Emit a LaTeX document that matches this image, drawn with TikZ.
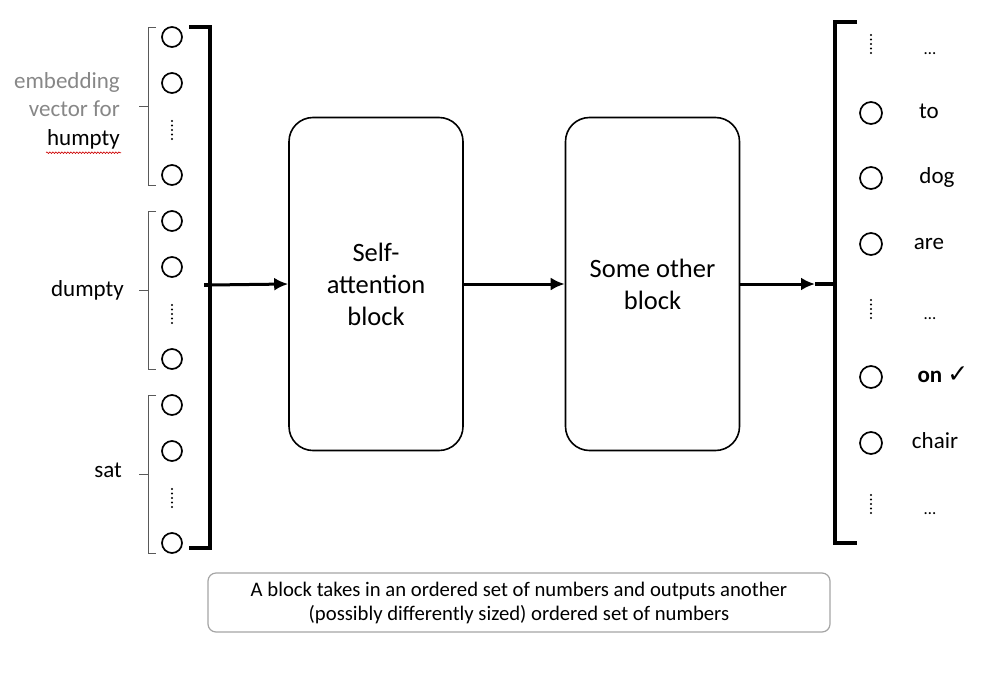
\documentclass[tikz,border=0pt]{standalone}
\usepackage{fontspec}
\setmainfont{Carlito}
\newfontfamily\symfont{DejaVu Sans}
\usetikzlibrary{arrows.meta,decorations.pathmorphing}
\definecolor{labelgray}{RGB}{135,135,135}
\definecolor{boxgray}{RGB}{165,165,165}

\begin{document}
\begin{tikzpicture}[x=1pt,y=-1pt,
	unit/.style={circle,draw,line width=1.7pt,minimum size=20pt,inner sep=0pt},
	block/.style={draw,line width=1.6pt,rounded corners=24pt,minimum width=174pt,minimum height=333pt,align=center,font=\fontsize{26.5}{32}\selectfont},
	word/.style={font=\fontsize{23}{28}\selectfont,inner sep=1pt,text height=16pt,text depth=5pt},
	vdots/.style={line width=2.4pt,line cap=round,dash pattern=on 0pt off 4.5pt},
	bigbrace/.style={line width=4pt},
	smallbrace/.style={line width=1pt,black!65},
	flow/.style={line width=3pt,-{Latex[length=14pt,width=13pt]}}]
\useasboundingbox (0,0) rectangle (995,696);

% input vectors, one group per word
\foreach \g/\t in {hum/27,dum/211,sat/395}{
	\node[unit] (\g1) at (172,\t+10) {};
	\node[unit] (\g2) at (172,\t+56) {};
	\node[unit] (\g3) at (172,\t+148) {};
	\draw[vdots] (172,\t+94) -- (172,\t+114);
	\draw[smallbrace] (156,\t) -- (148,\t) -- (148,\t+158) -- (156,\t+158);
	\draw[smallbrace] (148,\t+79) -- (139,\t+79);
}
\node[word,anchor=east,text=labelgray] (emb1) at (121,83) {embedding};
\node[word,anchor=east,text=labelgray] (emb2) at (121,111) {vector for};
\node[word,anchor=east] (humpty) at (121,140) {humpty};
\draw[red!80!black,line width=0.6pt,decorate,decoration={snake,amplitude=0.8pt,segment length=3pt}]
	([yshift=-1pt]humpty.south west) -- ([yshift=-1pt]humpty.south east);
\node[word,anchor=east] (dumpty) at (125,291) {dumpty};
\node[word,anchor=east] (sat) at (123,472) {sat};

% big brackets
\coordinate (inroot) at (210,285);
\coordinate (outtip) at (815,284);
\draw[bigbrace] (189,27) -- (210,27) -- (210,548) -- (189,548);
\draw[bigbrace] (inroot) -- ++(-6,0);
\draw[bigbrace] (857,22) -- (835,22) -- (835,543) -- (857,543);
\draw[bigbrace] (outtip) -- (835,284);

% blocks
\node[block] (attn) at (376,284) {Self-\\attention\\block};
\node[block] (other) at (652.5,284) {Some other\\block};
\draw[flow] (inroot) -- (attn.west);
\draw[flow] (attn.east) -- (other.west);
\draw[flow] (other.east) -- (outtip);

% output words
\foreach \n/\y/\x/\txt in {to/113/929/to,dog/178/937/dog,are/244/929/are,chair/443/935/chair}{
	\node[unit,minimum size=22pt] (c\n) at (871,\y) {};
	\node[word] (w\n) at (\x,\y) {\txt};
}
\node[unit,minimum size=22pt] (con) at (871,377) {};
\node[word] (won) at (943,377) {\textbf{on} {\symfont\fontsize{25}{28}\selectfont ✓}};
\foreach \y in {45,310,505}{
	\draw[vdots] (871,\y-10) -- (871,\y+10);
	\node[word,font=\fontsize{17}{20}\selectfont] at (930,\y+4) {…};
}

\node[draw=boxgray,line width=1.2pt,rounded corners=8pt,minimum width=622pt,minimum height=59pt,align=center,font=\fontsize{20.7}{24}\selectfont] (note) at (519,602.5)
	{A block takes in an ordered set of numbers and outputs another\\(possibly differently sized) ordered set of numbers};
\end{tikzpicture}
\end{document}
